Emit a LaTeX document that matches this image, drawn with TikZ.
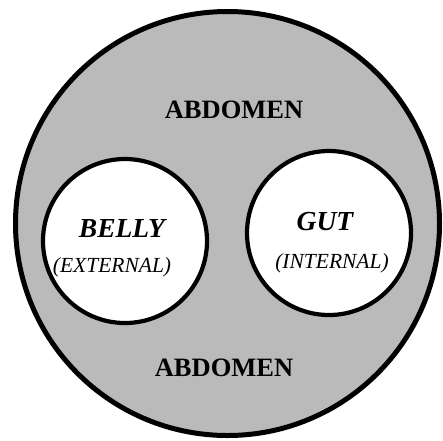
\documentclass[tikz,border=0pt]{standalone}
\usepackage{fontspec}
\setmainfont{Liberation Serif}
\begin{document}
\begin{tikzpicture}[x=1pt,y=-1pt,
  outerzone/.style={circle,draw=black,line width=5pt,fill=black!27,minimum size=424pt,inner sep=0pt},
  innerzone/.style={circle,draw=black,line width=4.2pt,fill=white,minimum size=164pt,inner sep=0pt},
  zonelabel/.style={font=\fontsize{26.5}{31}\selectfont\bfseries,inner sep=0pt},
  partname/.style={font=\fontsize{27.5}{32}\selectfont\bfseries\itshape,inner sep=0pt},
  partnote/.style={font=\fontsize{21.5}{26}\selectfont\itshape,inner sep=0pt}]
\useasboundingbox (0,0) rectangle (443,440);
\node[outerzone] (abdomen) at (227.5,223.5) {};
\node[innerzone] (belly) at (125,241) {};
\node[innerzone] (gut) at (329,233) {};
\node[zonelabel] (abtop) at (234,110) {ABDOMEN};
\node[zonelabel] (abbot) at (224,368) {ABDOMEN};
\node[partname] (bellyname) at (122,229) {BELLY};
\node[partnote] (bellynote) at (112,267) {(EXTERNAL)};
\node[partname] (gutname) at (325,222) {GUT};
\node[partnote] (gutnote) at (332,263) {(INTERNAL)};
\end{tikzpicture}
\end{document}
